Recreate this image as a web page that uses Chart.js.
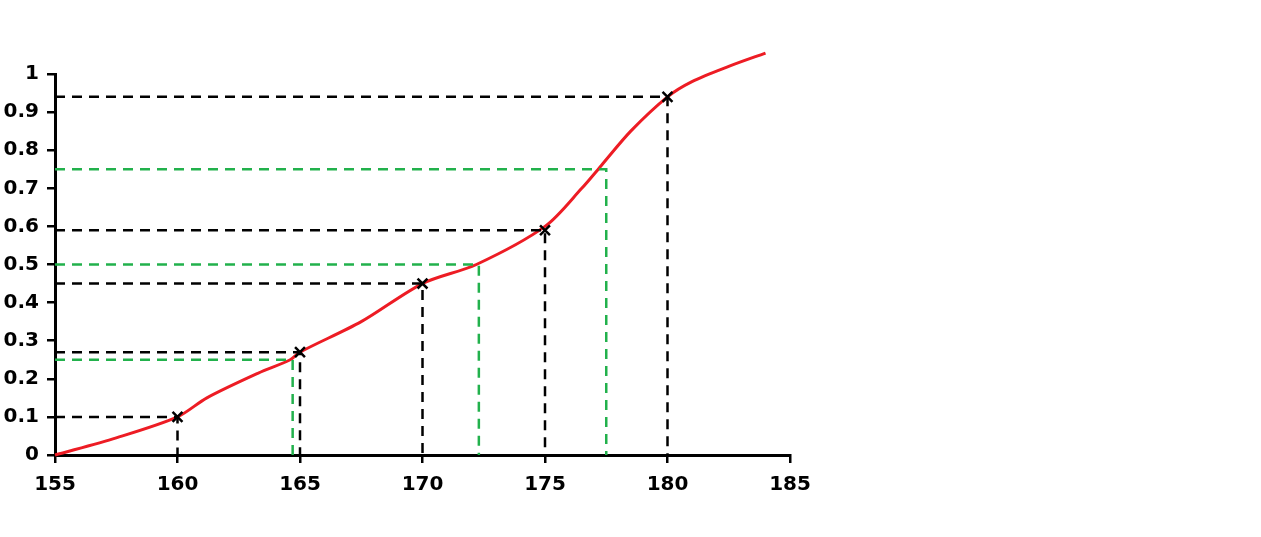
<!DOCTYPE html>
<html>
<head>
<meta charset="utf-8">
<script src="https://cdn.jsdelivr.net/npm/chart.js@4/dist/chart.umd.min.js"></script>
<style>
  html, body { margin: 0; padding: 0; background: #fff; }
  canvas { display: block; }
</style>
</head>
<body>
<canvas id="myChart" width="1261" height="537"></canvas>
<script>
// tick labels
const xTickLabels = ['155', '160', '165', '170', '175', '180', '185'];
const yTickLabels = ['0', '0.1', '0.2', '0.3', '0.4', '0.5', '0.6', '0.7', '0.8', '0.9', '1'];

// red cumulative curve (height, cumulative frequency)
const curveX = [155, 157.5, 160, 161.2, 163.3, 164.6, 165, 167.5, 170, 172.2, 175, 176.5, 177.3, 178.5, 180, 181, 182.5, 184];
const curveY = [0, 0.045, 0.1, 0.15, 0.215, 0.25, 0.27, 0.35, 0.45, 0.5, 0.6, 0.7, 0.76, 0.85, 0.94, 0.98, 1.02, 1.055];

// black readings: height -> frequency
const readX = [160, 165, 170, 175, 180];
const readY = [0.1, 0.27, 0.45, 0.59, 0.94];

// green readings: quartiles
const quartX = [164.7, 172.3, 177.5];
const quartY = [0.25, 0.5, 0.75];

const ctx = document.getElementById('myChart');

function guide(x, y, color) {
    return {
        data: [{x: 155, y: y}, {x: x, y: y}, {x: x, y: 0}],
        showLine: true,
        borderColor: color,
        borderWidth: 2.5,
        borderDash: [10, 7],
        pointRadius: 0,
        fill: false
    };
}

const datasets = [];
quartX.forEach((x, i) => datasets.push(guide(x, quartY[i], '#22b14c')));
readX.forEach((x, i) => datasets.push(guide(x, readY[i], '#000000')));

datasets.push({
    data: readX.map((x, i) => ({x: x, y: readY[i]})),
    showLine: false,
    pointStyle: 'crossRot',
    pointRadius: 7,
    borderColor: '#000',
    borderWidth: 2.5
});

datasets.push({
    data: curveX.map((x, i) => ({x: x, y: curveY[i]})),
    showLine: true,
    borderColor: '#ed1c24',
    borderWidth: 3,
    pointRadius: 0,
    tension: 0.3,
    clip: false
});

const tickFont = {family: 'DejaVu Sans', size: 20, weight: 'bold'};

new Chart(ctx, {
    type: 'scatter',
    data: { datasets: datasets },
    options: {
        responsive: false,
        animation: false,
        layout: { padding: { top: 74, right: 471, bottom: 0, left: 0 } },
        plugins: { legend: { display: false }, tooltip: { enabled: false } },
        scales: {
            x: {
                type: 'linear',
                min: 155,
                max: 185,
                border: { color: '#000', width: 3 },
                grid: { drawOnChartArea: false, color: '#000', lineWidth: 2.5, tickLength: 8 },
                ticks: {
                    stepSize: 5,
                    color: '#000',
                    font: tickFont,
                    padding: 10,
                    callback: (v, i) => xTickLabels[i]
                },
                afterFit: s => { s.height = 82; }
            },
            y: {
                min: 0,
                max: 1,
                border: { color: '#000', width: 3 },
                grid: { drawOnChartArea: false, color: '#000', lineWidth: 2.5, tickLength: 8 },
                ticks: {
                    stepSize: 0.1,
                    color: '#000',
                    font: tickFont,
                    padding: 8,
                    callback: (v, i) => yTickLabels[i]
                },
                afterFit: s => { s.width = 55; }
            }
        }
    }
});
</script>
</body>
</html>
